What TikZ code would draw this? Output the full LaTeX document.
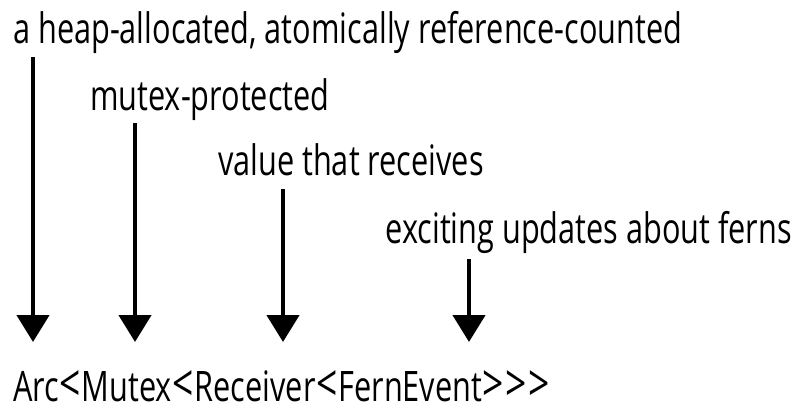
\documentclass[tikz,border=0pt]{standalone}
\usepackage{fontspec}
\setmainfont{Open Sans}[FakeStretch=0.73]
\usetikzlibrary{arrows.meta}
\newcommand{\myLt}{\kern0.8pt{\fontsize{51}{51}\selectfont<}\kern0.8pt}
\newcommand{\myGt}{\kern0.8pt{\fontsize{51}{51}\selectfont>}\kern0.8pt}
\begin{document}
\begin{tikzpicture}[x=1pt,y=-1pt,
  lbl/.style={anchor=base west,inner sep=0pt,font=\fontsize{42}{42}\selectfont},
  arr/.style={line width=4.5pt,-{Triangle[width=32pt,length=27pt]}}]
\useasboundingbox (0,0) rectangle (796,410);
\node[lbl] (t1) at (13,43) {a heap-allocated, atomically reference-counted};
\node[lbl] (t2) at (90,110) {mutex-protected};
\node[lbl] (t3) at (218,175) {value that receives};
\node[lbl,anchor=base east] (t4) at (792,243) {exciting updates about ferns};
\node[lbl] (ty) at (13,401) {Arc\myLt Mutex\myLt Receiver\myLt FernEvent\myGt\myGt\myGt};
\coordinate (s1) at (33,57);  \coordinate (e1) at (33,342);
\coordinate (s2) at (135,123); \coordinate (e2) at (135,342);
\coordinate (s3) at (283,189); \coordinate (e3) at (283,342);
\coordinate (s4) at (469,259); \coordinate (e4) at (469,342);
\draw[arr] (s1) -- (e1);
\draw[arr] (s2) -- (e2);
\draw[arr] (s3) -- (e3);
\draw[arr] (s4) -- (e4);
\end{tikzpicture}
\end{document}
